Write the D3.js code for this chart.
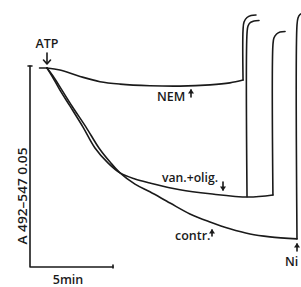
<!DOCTYPE html>
<html lang="en">
<head>
<meta charset="UTF-8">
<title>ATPase trace</title>
<script src="https://d3js.org/d3.v7.min.js"></script>
<style>
  html, body { margin: 0; padding: 0; background: #fff; }
  svg { display: block; }
  .trace { fill: none; stroke: #1a1a1a; stroke-width: 1.6; stroke-linejoin: round; stroke-linecap: round; }
  .lbl { font-family: "Open Sans", sans-serif; font-weight: 600; fill: #1a1a1a; }
</style>
</head>
<body>
<svg id="chart" width="301" height="287"></svg>
<script>
// time in min after ATP, absorbance change in mA (A 492-547 x 1000)
const baseline = [[-0.45,0],[0,0]];
const nemTrace = [[0,0],[0.78,-0.5],[1.99,-2.1],[3.19,-3.4],[4.4,-4.0],[6.2,-4.4],[8.01,-4.5],[9.82,-4.2],[11.02,-3.7],[11.81,-3.0]];
const vanTrace = [[0,0],[0.3,-2.0],[0.78,-5.5],[1.39,-9.5],[2.17,-14.7],[2.89,-19.9],[3.67,-23.6],[4.4,-26.1],[5.3,-27.6],[6.2,-28.6],[8.01,-30.3],[9.82,-31.3],[12.11,-32.1],[13.61,-31.6]];
const contrTrace = [[0,0],[0.36,-2.0],[0.9,-5.5],[1.51,-9.5],[2.35,-14.7],[3.13,-19.9],[3.8,-23.4],[4.4,-26.1],[5.3,-28.9],[6.2,-30.8],[7.41,-33.6],[8.61,-36.3],[9.82,-38.3],[11.02,-40.0],[12.23,-41.3],[13.43,-42.0],[15.06,-42.5]];

// pen runs off scale after the additions
const nemJump = [[11.81,-3.0],[11.81,9.45],[11.87,11.44],[12.05,12.56],[12.29,13.06],[12.59,13.18]];
const vanJump1 = [[12.05,-32.0],[12.05,8.71],[12.11,10.45],[12.26,11.32],[12.47,11.69],[12.77,11.82]];
const vanJump2 = [[13.61,-31.6],[13.61,5.72],[13.67,7.46],[13.83,8.46],[14.04,8.96],[14.34,9.08]];
const contrJump = [[15.06,-42.5],[15.06,10.7],[15.12,12.44],[15.24,13.31],[15.42,13.68]];

const scaleMin = 5;       // horizontal bar, min
const scaleAbs = 50;      // vertical bar, mA (0.05 A)
const axisLabel = "A 492\u2013547 0.05";
const timeLabel = "5min";

const svg = d3.select("#chart");
const x = d3.scaleLinear().domain([0, 5]).range([47, 130]);
const y = d3.scaleLinear().domain([0, -50]).range([68, 269]);

const line = d3.line()
  .x(d => x(d[0]))
  .y(d => y(d[1]))
  .curve(d3.curveCatmullRom.alpha(0.5));

[baseline, nemTrace, vanTrace, contrTrace, nemJump, vanJump1, vanJump2, contrJump].forEach(tr => {
  svg.append("path").attr("class", "trace").attr("d", line(tr));
});

// scale bars
const bx = 30, by = 267;
const barW = x(scaleMin) - x(0);
const barH = y(-scaleAbs) - y(0);
svg.append("path").attr("class", "trace").attr("stroke-width", 1.5)
  .attr("d", `M${bx},${by - barH}V${by}H${bx + barW}`);
svg.append("path").attr("class", "trace").attr("stroke-width", 1.3)
  .attr("d", `M${bx - 2},${by - barH}H${bx + 2}M${bx + barW},${by - 2}V${by + 1}`);

svg.append("text").attr("class", "lbl")
  .attr("transform", `translate(27,196) rotate(-90)`)
  .attr("text-anchor", "middle")
  .attr("font-size", 13)
  .attr("textLength", 97).attr("lengthAdjust", "spacingAndGlyphs")
  .text(axisLabel);

svg.append("text").attr("class", "lbl")
  .attr("x", 68).attr("y", 284).attr("text-anchor", "middle")
  .attr("font-size", 12.5).text(timeLabel);

// labels with arrows
function arrow(cx, y0, y1, open) {
  const dir = y1 > y0 ? 1 : -1;
  svg.append("line").attr("class", "trace").attr("stroke-width", 1.4)
    .attr("x1", cx).attr("x2", cx).attr("y1", y0).attr("y2", y1 - dir * 1);
  if (open) {
    svg.append("path").attr("class", "trace").attr("stroke-width", 1.4)
      .attr("d", `M${cx - 3.5},${y1 - dir * 4}L${cx},${y1}L${cx + 3.5},${y1 - dir * 4}`);
  } else {
    svg.append("path").attr("fill", "#1a1a1a")
      .attr("d", `M${cx - 3},${y1 - dir * 4.5}L${cx},${y1}L${cx + 3},${y1 - dir * 4.5}Z`);
  }
}

svg.append("text").attr("class", "lbl").attr("x", 47).attr("y", 48)
  .attr("text-anchor", "middle").attr("font-size", 12.5).text("ATP");
arrow(47, 53, 64, true);

svg.append("text").attr("class", "lbl").attr("x", 157).attr("y", 101)
  .attr("font-size", 12.5).text("NEM");
arrow(191, 97, 89, false);

svg.append("text").attr("class", "lbl").attr("x", 162).attr("y", 182)
  .attr("font-size", 12).attr("textLength", 56).attr("lengthAdjust", "spacingAndGlyphs").text("van.+olig.");
arrow(223, 182, 191, false);

svg.append("text").attr("class", "lbl").attr("x", 175).attr("y", 240)
  .attr("font-size", 12.5).text("contr.");
arrow(212, 236, 229, false);

svg.append("text").attr("class", "lbl").attr("x", 285).attr("y", 266)
  .attr("font-size", 12.5).text("Ni");
arrow(297, 251, 243, false);
</script>
</body>
</html>
